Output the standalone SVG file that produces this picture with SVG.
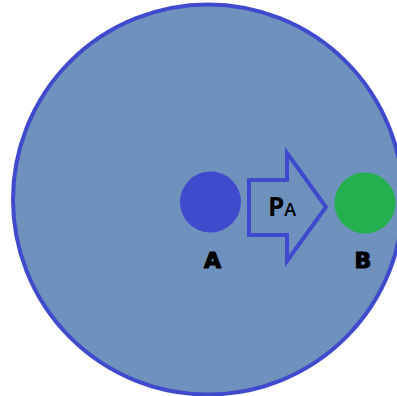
<svg xmlns="http://www.w3.org/2000/svg" width="397" height="396" viewBox="0 0 397 396">
<style>
.lbl{font-family:"DejaVu Sans","Liberation Sans",sans-serif;font-weight:bold;font-size:22px;fill:#000;stroke:#000;stroke-width:1.2;text-anchor:middle}
.pa{font-family:"Open Sans","Liberation Sans",sans-serif;font-weight:600;fill:#000}
</style>
<rect width="397" height="396" fill="#ffffff"/>
<g id="region">
<circle cx="208" cy="199.5" r="195" fill="#6f91bd" stroke="#3f4bcc" stroke-width="4"/>
</g>
<g id="nodeA">
<circle cx="210.5" cy="202" r="30.5" fill="#3f4bcc"/>
<text class="lbl" x="212.5" y="268">A</text>
</g>
<g id="nodeB">
<circle cx="365" cy="203" r="30.5" fill="#24b04e"/>
<text class="lbl" x="363" y="268">B</text>
</g>
<g id="connectors">
<path d="M249,180 L287,180 L287,153 L326,207 L287,261 L287,235 L249,235 Z" fill="none" stroke="#3f4bcc" stroke-width="4" stroke-linejoin="miter"/>
<text class="pa" x="268" y="216"><tspan font-size="26" font-weight="700">P</tspan><tspan font-size="18">A</tspan></text>
</g>
</svg>
